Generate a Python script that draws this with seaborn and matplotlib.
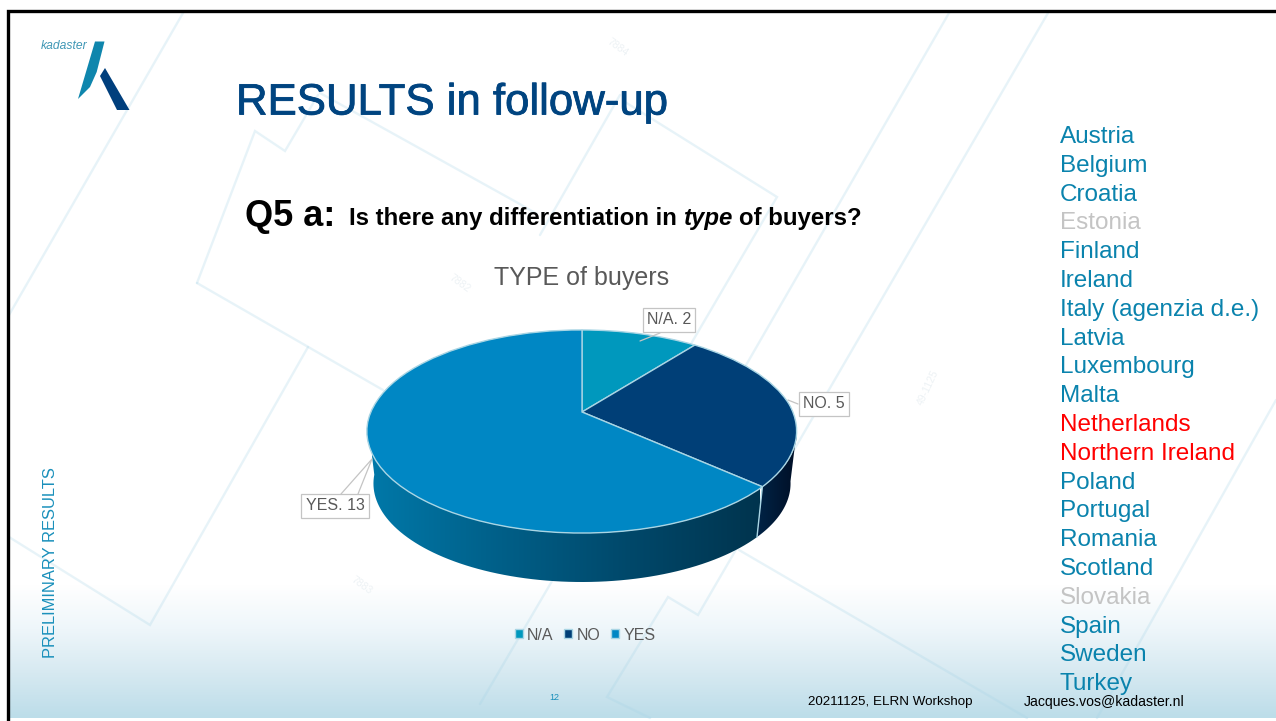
import numpy as np
import seaborn as sns
import matplotlib
matplotlib.use('Agg')
import matplotlib.pyplot as plt
import matplotlib.patheffects as pe
from matplotlib.colors import LinearSegmentedColormap
from matplotlib.patches import Polygon
from matplotlib.transforms import Transform

# Chart data
categories = ['N/A', 'NO', 'YES']
answers = [2, 5, 13]
countries = ['Austria', 'Belgium', 'Croatia', 'Estonia', 'Finland', 'Ireland',
             'Italy (agenzia d.e.)', 'Latvia', 'Luxembourg', 'Malta', 'Netherlands',
             'Northern Ireland', 'Poland', 'Portugal', 'Romania', 'Scotland',
             'Slovakia', 'Spain', 'Sweden', 'Turkey']
grey_countries = ['Estonia', 'Slovakia']
red_countries = ['Netherlands', 'Northern Ireland']

sns.set_theme(style='white')
plt.rcParams['font.family'] = ['Liberation Sans', 'DejaVu Sans']

pie_colors = ['#0098bd', '#003f77', '#0087c4']
teal = '#0a83ad'
navy = '#004480'
grey_text = '#595959'


class TiltedPie(Transform):
    # unit circle -> perspective ellipse in pixel coordinates
    input_dims = 2
    output_dims = 2

    def __init__(self, cx=582, cy=412, a=211, b=97.8, k=0.192, scale=1.0, drop=0.0):
        super().__init__()
        self.cx, self.cy, self.a, self.b, self.k = cx, cy, a, b, k
        self.scale, self.drop = scale, drop

    def transform_non_affine(self, values):
        values = np.asarray(values, dtype=float)
        r = np.hypot(values[:, 0], values[:, 1])
        t = np.arctan2(values[:, 0], values[:, 1]) % (2 * np.pi)
        t = t + np.radians(6.5) * np.sin(t / 2)
        x, y = r * np.sin(t), r * np.cos(t)
        w = 1 + self.k * y
        return np.column_stack([self.cx + self.scale * self.a * x / w,
                                self.cy + self.drop - self.scale * self.b * y / w])


top_rim = TiltedPie()
bottom_rim = TiltedPie(scale=0.97, drop=52.6)

fig = plt.figure(figsize=(12.76, 7.21), dpi=100)
ax = fig.add_axes([0, 0, 1, 1])

wedges, _ = ax.pie(answers, colors=pie_colors, startangle=90, counterclock=False,
                   wedgeprops={'edgecolor': '#a9d5e4', 'linewidth': 1})
ax.set_aspect('auto')
ax.axis('off')
for w in wedges:
    w.set_transform(top_rim + ax.transData)
    w.set_zorder(4)

# Slide background
fade = LinearSegmentedColormap.from_list('fade', ['#ffffff', '#eef6fa', '#d6e9f1', '#bcdde9'])
ax.imshow(np.linspace(0, 1, 200).reshape(-1, 1), extent=(8, 1276, 718, 585), cmap=fade,
          aspect='auto', zorder=0)

parcel_lines = [
    [(183, 13), (9, 315)],
    [(9, 537), (150, 625), (308, 347)],
    [(197, 283), (383, 390)],
    [(197, 283), (255, 131), (285, 151), (318, 95)],
    [(320, 93), (518, 203), (537, 214)],
    [(620, 95), (540, 235)],
    [(625, 102), (777, 197), (480, 704)],
    [(949, 13), (700, 445)],
    [(1048, 13), (698, 615), (668, 597), (607, 697), (650, 718)],
    [(739, 550), (1027, 718)],
    [(1276, 400), (1097, 718)],
]
for line in parcel_lines:
    xs, ys = zip(*line)
    ax.plot(xs, ys, color='#a5d3e6', alpha=0.26, lw=1.7, zorder=1, solid_joinstyle='miter')

for label, x, y, rot in [('7884', 618, 47, -36), ('7882', 460, 283, -36),
                         ('7883', 362, 585, -36), ('49-1125', 928, 388, 65)]:
    ax.text(x, y, label, color='#edf2f5', fontsize=7.5, rotation=rot, ha='center',
            va='center', zorder=1)

# Frame
ax.plot([8, 8, 1276], [721, 11, 11], color='black', lw=2.4, zorder=6, solid_joinstyle='miter')

# Logo
ax.add_patch(Polygon([(95, 41.5), (104.5, 41.5), (96.7, 72), (90, 87), (78, 99)], color='#0f86ad', lw=0, zorder=5))
ax.add_patch(Polygon([(105, 68), (129.5, 110), (117, 110), (100, 76)], color='#003f7d', lw=0, zorder=5))
ax.text(41, 46, 'kadaster', color='#3f97b5', fontsize=8.7, style='italic', va='center', zorder=5)

# Slide headings
ax.text(236, 103, 'RESULTS in follow-up', color=navy, fontsize=31.5, va='center', zorder=5,
        path_effects=[pe.withStroke(linewidth=0.6, foreground=navy)])
ax.text(245, 217, 'Q5 a:', color='black', fontsize=26, weight='bold', va='center', zorder=5)
ax.text(349, 219, 'Is there any differentiation in', color='black', fontsize=17.3, weight='bold', va='center', zorder=5)
ax.text(684, 219, 'type', color='black', fontsize=17.3, weight='bold', style='italic', va='center', zorder=5)
ax.text(739, 219, 'of buyers?', color='black', fontsize=17.3, weight='bold', va='center', zorder=5)
ax.text(582, 278, 'TYPE of buyers', color=grey_text, fontsize=18, ha='center', va='center', zorder=5)
ax.text(51, 563, 'PRELIMINARY RESULTS', color='#1a90bb', fontsize=11.9, rotation=90,
        ha='center', va='center', zorder=5)

# Side wall of the pie, shaded left to right
edges = np.cumsum([0] + answers) / sum(answers) * 2 * np.pi
walls = [(np.radians(95), edges[2], ['#00264a', '#000f26'], (752, 797)),
         (edges[2], np.radians(259), ['#0078a8', '#005f88', '#00486a', '#00344e'], (372, 760))]
for start, stop, shades, span in walls:
    t = np.linspace(start, stop, 80)
    unit = np.column_stack([np.sin(t), np.cos(t)])
    poly = np.vstack([top_rim.transform(unit), bottom_rim.transform(unit)[::-1]])
    cmap = LinearSegmentedColormap.from_list('wall', shades)
    im = ax.imshow(np.linspace(0, 1, 256).reshape(1, -1), extent=(span[0], span[1], 600, 400),
                   cmap=cmap, aspect='auto', zorder=3)
    im.set_clip_path(Polygon(poly, transform=ax.transData))

seam = np.array([[np.sin(edges[2]), np.cos(edges[2])]])
seam_pts = np.vstack([top_rim.transform(seam), bottom_rim.transform(seam)])
ax.plot(seam_pts[:, 0], seam_pts[:, 1], color='#a9d5e4', lw=1, zorder=3.5)

# Data labels with leader lines
label_spots = [(669, 320), (824, 404), (335, 506)]
leaders = [[(660, 333), (640, 341)],
           [(798, 404), (788, 400)],
           [(341, 494), (372, 459), (358, 494)]]
for name, val, (x, y), lead in zip(categories, answers, label_spots, leaders):
    xs, ys = zip(*lead)
    ax.plot(xs, ys, color='#c4c4c4', lw=0.9, zorder=5)
    ax.text(x, y, f'{name}. {val}', color=grey_text, fontsize=11.5, ha='center', va='center', zorder=6,
            bbox=dict(boxstyle='square,pad=0.26', facecolor='white', edgecolor='#c4c4c4', lw=0.9))

ax.legend(wedges, categories, ncol=3, loc='center', bbox_to_anchor=(585 / 1276, 1 - 635 / 721),
          frameon=False, fontsize=11.5, labelcolor=grey_text, handlelength=0.5, handleheight=0.5,
          handletextpad=0.25, columnspacing=0.7, borderpad=0)

# Country list
for i, name in enumerate(countries):
    color = teal
    if name in grey_countries:
        color = '#c4c4c4'
    if name in red_countries:
        color = '#ff0000'
    ax.text(1060, 137 + i * 28.8, name, color=color, fontsize=17.5, va='center', zorder=5)

# Footer
ax.text(554, 698, '12', color='#1a90bb', fontsize=6.5, ha='center', va='center', zorder=5)
ax.text(808, 702, '20211125, ELRN Workshop', color='black', fontsize=9.6, va='center', zorder=5)
ax.text(1024, 702, 'Jacques.vos@kadaster.nl', color='black', fontsize=10.1, va='center', zorder=5)

ax.set_xlim(0, 1276)
ax.set_ylim(721, 0)

fig.savefig('out.png', dpi=100)
